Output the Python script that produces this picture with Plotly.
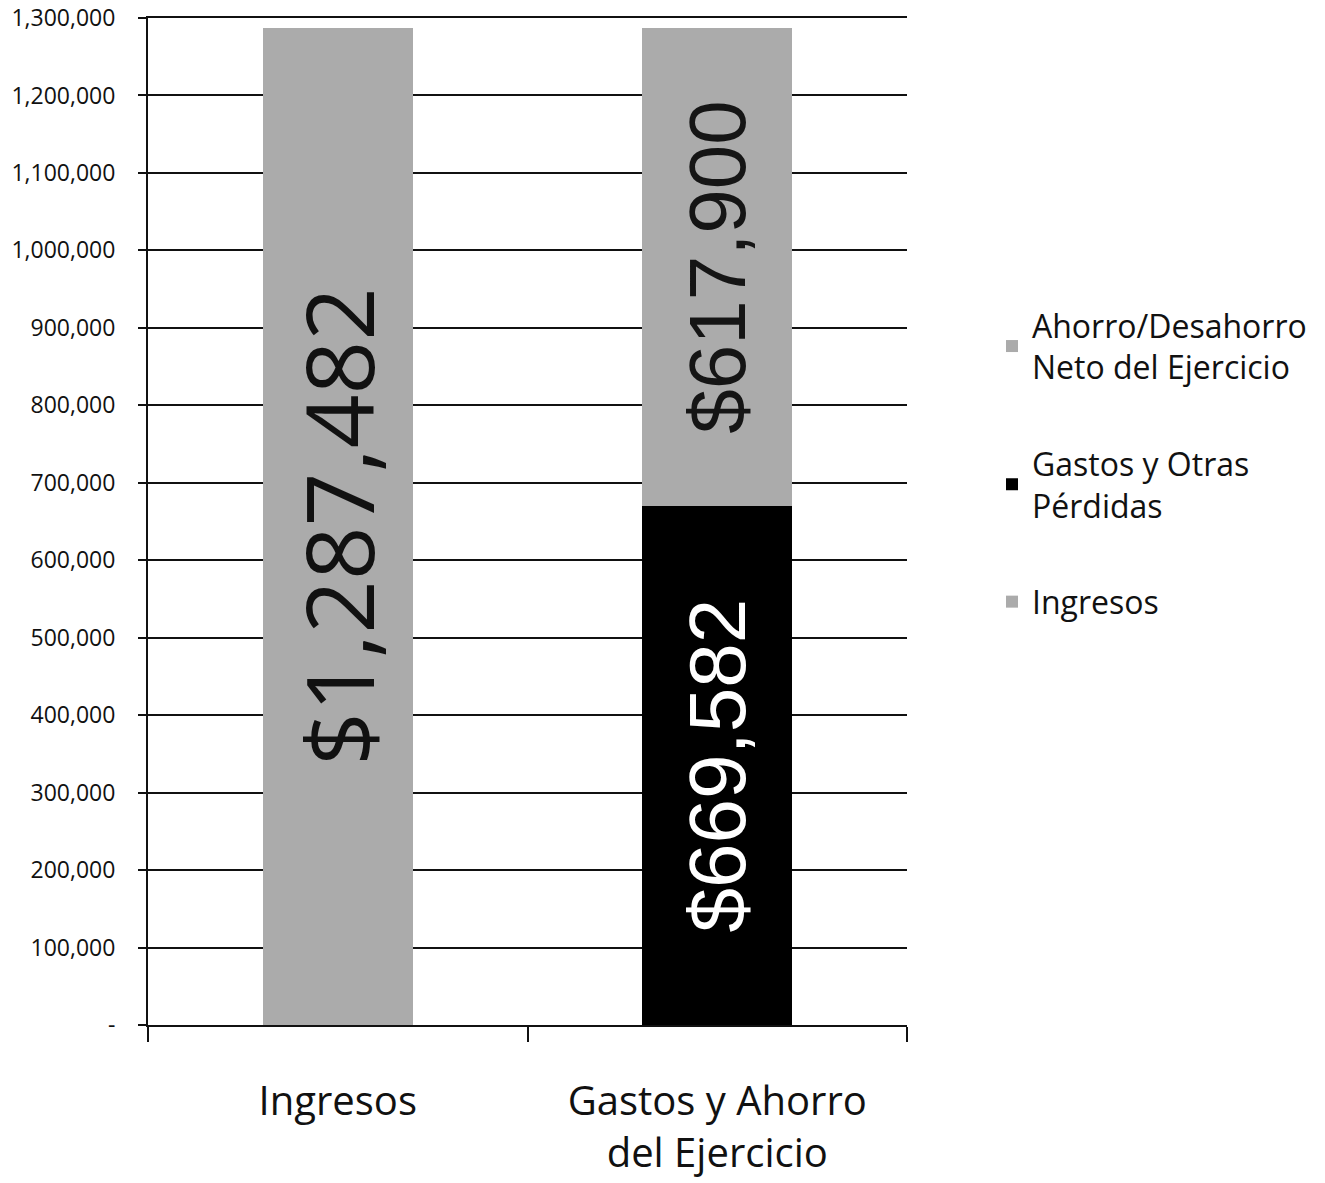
import plotly.graph_objects as go

# Categories on the x axis
categories = ["Ingresos", "Gastos y Ahorro<br>del Ejercicio"]

# Stacked series values (None where a series has no bar in that category)
ingresos = [1287482, None]
gastos = [None, 669582]
ahorro = [None, 617900]

# Y axis ticks
y_tickvals = [0, 100000, 200000, 300000, 400000, 500000, 600000,
              700000, 800000, 900000, 1000000, 1100000, 1200000, 1300000]
y_ticktext = ["-", "100,000", "200,000", "300,000", "400,000", "500,000", "600,000",
              "700,000", "800,000", "900,000", "1,000,000", "1,100,000", "1,200,000", "1,300,000"]

GRAY = "#ababab"
INK = "#111111"
SANS = "Open Sans, Lato, sans-serif"
ARIAL = "Liberation Sans, Arial, sans-serif"

fig = go.Figure()

fig.add_trace(go.Bar(
    x=categories, y=ingresos, name="Ingresos", legendgroup="ing", legendrank=3,
    marker=dict(color=GRAY, line=dict(width=0)),
    texttemplate="$%{y:,}", textposition="inside", insidetextanchor="middle",
    textangle=-90, textfont=dict(family=SANS, size=94, color=INK),
    width=0.395,
))
fig.add_trace(go.Bar(
    x=categories, y=gastos, name="Gastos y Otras<br>Pérdidas", legendgroup="gas", legendrank=2,
    marker=dict(color="#000000", line=dict(width=0)),
    texttemplate="$%{y:,}", textposition="inside", insidetextanchor="middle",
    textangle=-90, textfont=dict(family=ARIAL, size=80, color="#ffffff"),
    width=0.395,
))
fig.add_trace(go.Bar(
    x=categories, y=ahorro, name="Ahorro/Desahorro<br>Neto del Ejercicio", legendgroup="aho", legendrank=1,
    marker=dict(color=GRAY, line=dict(width=0)),
    texttemplate="$%{y:,}", textposition="inside", insidetextanchor="middle",
    textangle=-90, textfont=dict(family=ARIAL, size=80, color="#151515"),
    width=0.395,
))

fig.update_layout(
    width=1325, height=1183,
    margin=dict(l=148, r=418, t=18, b=158, autoexpand=False),
    paper_bgcolor="white", plot_bgcolor="white",
    barmode="stack",
    uniformtext=dict(mode=False),
    font=dict(family=SANS, color=INK),
    legend=dict(
        x=1.112, y=0.722, xanchor="left", yanchor="top",
        traceorder="grouped", tracegroupgap=52,
        font=dict(family=SANS, size=32, color=INK),
        bgcolor="rgba(0,0,0,0)",
    ),
    showlegend=True,
)

fig.update_yaxes(
    range=[0, 1300000], tickvals=y_tickvals, ticktext=y_ticktext,
    automargin=False,
    showgrid=True, gridcolor=INK, gridwidth=2,
    showline=True, linecolor=INK, linewidth=2,
    ticks="outside", ticklen=8, tickcolor=INK, tickwidth=2,
    ticklabelstandoff=18, zeroline=False,
    tickfont=dict(family=SANS, size=23, color=INK),
)
fig.update_xaxes(
    automargin=False,
    showline=True, mirror=True, linecolor=INK, linewidth=2,
    ticks="outside", tickson="boundaries", ticklen=15, tickcolor=INK, tickwidth=2,
    ticklabelstandoff=40, showgrid=False,
    tickfont=dict(family=SANS, size=40, color=INK),
)

fig.write_html("out.html")
